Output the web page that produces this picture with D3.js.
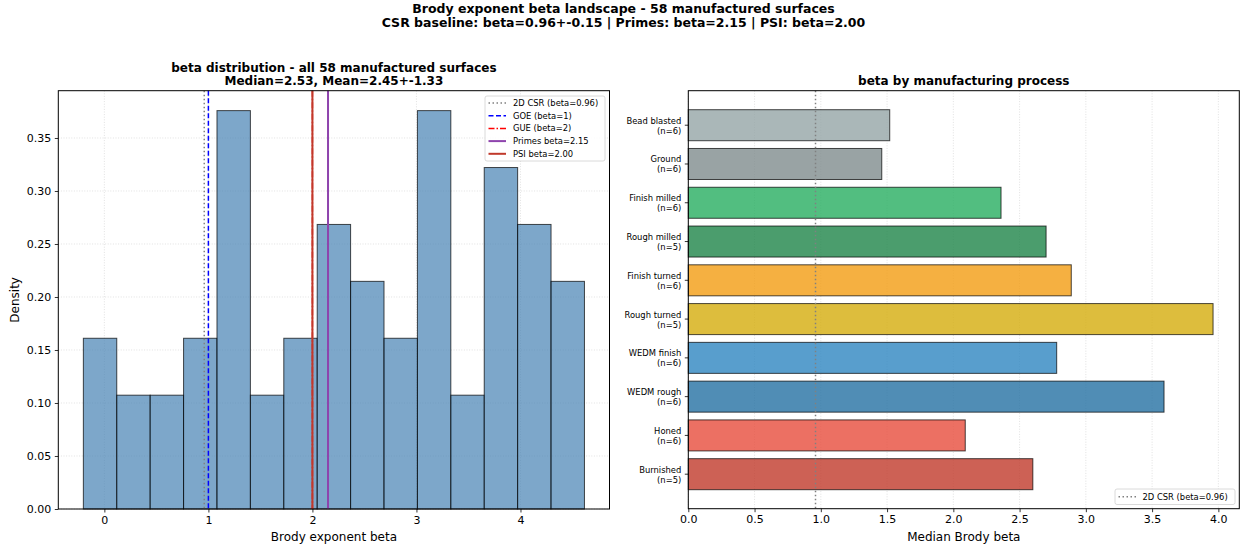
<!DOCTYPE html>
<html>
<head>
<meta charset="utf-8">
<script src="https://cdn.jsdelivr.net/npm/d3@7"></script>
<style>
  html, body { margin: 0; padding: 0; background: #fff; }
  svg { display: block; font-family: "DejaVu Sans", sans-serif; }
</style>
</head>
<body>
<svg id="chart" width="1247" height="549"></svg>
<script>
// ---- data ----
const histCounts = [3, 2, 2, 3, 7, 2, 3, 5, 4, 3, 7, 2, 6, 5, 4];
const histRange = [-0.202, 4.615];
const nSurfaces = 58;

const refLabels = ["2D CSR (beta=0.96)", "GOE (beta=1)", "GUE (beta=2)", "Primes beta=2.15", "PSI beta=2.00"];
const refValues = [0.96, 1.0, 2.0, 2.15, 2.00];

const processes = ["Bead blasted", "Ground", "Finish milled", "Rough milled", "Finish turned",
                   "Rough turned", "WEDM finish", "WEDM rough", "Honed", "Burnished"];
const processN = [6, 6, 6, 5, 6, 5, 6, 6, 6, 5];
const processMedian = [1.52, 1.46, 2.36, 2.70, 2.89, 3.96, 2.78, 3.59, 2.09, 2.60];

const histTicksX = [0, 1, 2, 3, 4];
const histTicksY = [0, 0.05, 0.10, 0.15, 0.20, 0.25, 0.30, 0.35];
const barTicksX = [0, 0.5, 1.0, 1.5, 2.0, 2.5, 3.0, 3.5, 4.0];
const csrBeta = 0.96;

// ---- styling ----
const processColors = ["#95a5a6", "#7f8c8d", "#27ae60", "#1e8449", "#f39c12",
                       "#d4ac0d", "#2e86c1", "#2471a3", "#e74c3c", "#c0392b"];
const refStyles = [
  { color: "#808080", dash: "1.5,2.5", width: 1.5 },
  { color: "#0000ff", dash: "5,2.5", width: 1.5 },
  { color: "#ff0000", dash: "6,2,1.5,2", width: 1.5 },
  { color: "#8e44ad", dash: null, width: 2 },
  { color: "#c0392b", dash: null, width: 2 }
];

const svg = d3.select("#chart");
const FONT = "DejaVu Sans, sans-serif";

// ---- figure titles ----
svg.append("text").attr("x", 623.5).attr("y", 13).attr("text-anchor", "middle")
  .attr("font-size", 12.5).attr("font-weight", "bold")
  .text("Brody exponent beta landscape - 58 manufactured surfaces");
svg.append("text").attr("x", 623.5).attr("y", 27).attr("text-anchor", "middle")
  .attr("font-size", 12.5).attr("font-weight", "bold")
  .text("CSR baseline: beta=0.96+-0.15 | Primes: beta=2.15 | PSI: beta=2.00");

// ===== left panel: histogram =====
const L = { x0: 58.3, x1: 609.5, y0: 90.7, y1: 509 };
const binW = (histRange[1] - histRange[0]) / histCounts.length;
const bins = histCounts.map((c, i) => ({
  x0: histRange[0] + i * binW,
  x1: histRange[0] + (i + 1) * binW,
  density: c / (nSurfaces * binW)
}));
const span = histRange[1] - histRange[0];
const xH = d3.scaleLinear().domain([histRange[0] - 0.05 * span, histRange[1] + 0.05 * span]).range([L.x0, L.x1]);
const maxD = d3.max(bins, d => d.density);
const yH = d3.scaleLinear().domain([0, maxD * 1.05]).range([L.y1, L.y0]);

const gL = svg.append("g");
// grid
gL.append("g").selectAll("line").data(histTicksX).join("line")
  .attr("x1", d => xH(d)).attr("x2", d => xH(d)).attr("y1", L.y0).attr("y2", L.y1)
  .attr("stroke", "#d9d9d9").attr("stroke-width", 0.8).attr("stroke-dasharray", "1,1.6");
gL.append("g").selectAll("line").data(histTicksY).join("line")
  .attr("x1", L.x0).attr("x2", L.x1).attr("y1", d => yH(d)).attr("y2", d => yH(d))
  .attr("stroke", "#d9d9d9").attr("stroke-width", 0.8).attr("stroke-dasharray", "1,1.6");
// bars
gL.append("g").selectAll("rect").data(bins).join("rect")
  .attr("x", d => xH(d.x0)).attr("width", d => xH(d.x1) - xH(d.x0))
  .attr("y", d => yH(d.density)).attr("height", d => yH(0) - yH(d.density))
  .attr("fill", "steelblue").attr("fill-opacity", 0.7)
  .attr("stroke", "#000").attr("stroke-opacity", 0.7).attr("stroke-width", 1);
// reference lines
gL.append("g").selectAll("line").data(refValues).join("line")
  .attr("x1", d => xH(d)).attr("x2", d => xH(d)).attr("y1", L.y0).attr("y2", L.y1)
  .attr("stroke", (d, i) => refStyles[i].color)
  .attr("stroke-width", (d, i) => refStyles[i].width)
  .attr("stroke-dasharray", (d, i) => refStyles[i].dash);
// axes
const axLB = gL.append("g").attr("transform", `translate(0,${L.y1})`)
  .call(d3.axisBottom(xH).tickValues(histTicksX).tickFormat(d3.format("d")).tickSize(3.5).tickPadding(3.5));
const axLL = gL.append("g").attr("transform", `translate(${L.x0},0)`)
  .call(d3.axisLeft(yH).tickValues(histTicksY).tickFormat(d3.format(".2f")).tickSize(3.5).tickPadding(3.5));
[axLB, axLL].forEach(a => {
  a.select(".domain").remove();
  a.selectAll("text").attr("font-size", 11).attr("font-family", FONT).attr("fill", "#000");
  a.selectAll("line").attr("stroke", "#000").attr("stroke-width", 0.8);
});
gL.append("rect").attr("x", L.x0).attr("y", L.y0).attr("width", L.x1 - L.x0).attr("height", L.y1 - L.y0)
  .attr("fill", "none").attr("stroke", "#000").attr("stroke-width", 1);
gL.append("text").attr("x", (L.x0 + L.x1) / 2).attr("y", 541).attr("text-anchor", "middle")
  .attr("font-size", 12).text("Brody exponent beta");
gL.append("text").attr("transform", `translate(19,${(L.y0 + L.y1) / 2}) rotate(-90)`)
  .attr("text-anchor", "middle").attr("font-size", 12).text("Density");
gL.append("text").attr("x", (L.x0 + L.x1) / 2).attr("y", 71.5).attr("text-anchor", "middle")
  .attr("font-size", 12).attr("font-weight", "bold").text("beta distribution - all 58 manufactured surfaces");
gL.append("text").attr("x", (L.x0 + L.x1) / 2).attr("y", 85).attr("text-anchor", "middle")
  .attr("font-size", 12).attr("font-weight", "bold").text("Median=2.53, Mean=2.45+-1.33");

// legend (left)
const lg = gL.append("g");
lg.append("rect").attr("x", 485).attr("y", 96).attr("width", 120).attr("height", 65).attr("rx", 2)
  .attr("fill", "#fff").attr("fill-opacity", 0.85).attr("stroke", "#d0d0d0").attr("stroke-width", 0.8);
refLabels.forEach((lab, i) => {
  const cy = 103 + i * 12.7;
  lg.append("line").attr("x1", 488.5).attr("x2", 506).attr("y1", cy).attr("y2", cy)
    .attr("stroke", refStyles[i].color).attr("stroke-width", refStyles[i].width)
    .attr("stroke-dasharray", refStyles[i].dash);
  lg.append("text").attr("x", 513).attr("y", cy + 3).attr("font-size", 8.4).text(lab);
});

// ===== right panel: horizontal bars =====
const R = { x0: 688.3, x1: 1239.3, y0: 90.7, y1: 508.7 };
const maxM = d3.max(processMedian);
const xB = d3.scaleLinear().domain([0, maxM * 1.05]).range([R.x0, R.x1]);
const nP = processes.length;
const pad = 0.05 * ((nP - 1 + 0.4) - (-0.4));
const yB = d3.scaleLinear().domain([-0.4 - pad, nP - 1 + 0.4 + pad]).range([R.y0, R.y1]);

const gR = svg.append("g");
gR.append("g").selectAll("line").data(barTicksX).join("line")
  .attr("x1", d => xB(d)).attr("x2", d => xB(d)).attr("y1", R.y0).attr("y2", R.y1)
  .attr("stroke", "#d9d9d9").attr("stroke-width", 0.8).attr("stroke-dasharray", "1,1.6");
gR.append("g").selectAll("rect").data(processMedian).join("rect")
  .attr("x", xB(0)).attr("width", d => xB(d) - xB(0))
  .attr("y", (d, i) => yB(i - 0.4)).attr("height", (d, i) => yB(i + 0.4) - yB(i - 0.4))
  .attr("fill", (d, i) => processColors[i]).attr("fill-opacity", 0.8)
  .attr("stroke", "#000").attr("stroke-opacity", 0.7).attr("stroke-width", 1);
gR.append("line").attr("x1", xB(csrBeta)).attr("x2", xB(csrBeta)).attr("y1", R.y0).attr("y2", R.y1)
  .attr("stroke", "#808080").attr("stroke-width", 1.5).attr("stroke-dasharray", "1.5,2.5");

const axRB = gR.append("g").attr("transform", `translate(0,${R.y1})`)
  .call(d3.axisBottom(xB).tickValues(barTicksX).tickFormat(d3.format(".1f")).tickSize(3.5).tickPadding(3.5));
axRB.select(".domain").remove();
axRB.selectAll("text").attr("font-size", 11).attr("font-family", FONT).attr("fill", "#000");
axRB.selectAll("line").attr("stroke", "#000").attr("stroke-width", 0.8);
// category ticks and two-line labels
const cat = gR.append("g").selectAll("g").data(processes).join("g")
  .attr("transform", (d, i) => `translate(${R.x0},${yB(i)})`);
cat.append("line").attr("x1", -3.5).attr("x2", 0).attr("stroke", "#000").attr("stroke-width", 0.8);
cat.append("text").attr("x", -7).attr("y", -1.5).attr("text-anchor", "end").attr("font-size", 8.4).text(d => d);
cat.append("text").attr("x", -7).attr("y", 8.5).attr("text-anchor", "end").attr("font-size", 8.4)
  .text((d, i) => `(n=${processN[i]})`);

gR.append("rect").attr("x", R.x0).attr("y", R.y0).attr("width", R.x1 - R.x0).attr("height", R.y1 - R.y0)
  .attr("fill", "none").attr("stroke", "#000").attr("stroke-width", 1);
gR.append("text").attr("x", (R.x0 + R.x1) / 2).attr("y", 541).attr("text-anchor", "middle")
  .attr("font-size", 12).text("Median Brody beta");
gR.append("text").attr("x", (R.x0 + R.x1) / 2).attr("y", 85).attr("text-anchor", "middle")
  .attr("font-size", 12).attr("font-weight", "bold").text("beta by manufacturing process");

// legend (right)
const lr = gR.append("g");
lr.append("rect").attr("x", 1115).attr("y", 489).attr("width", 120).attr("height", 15.5).attr("rx", 2)
  .attr("fill", "#fff").attr("fill-opacity", 0.85).attr("stroke", "#d0d0d0").attr("stroke-width", 0.8);
lr.append("line").attr("x1", 1118.5).attr("x2", 1136.5).attr("y1", 496.7).attr("y2", 496.7)
  .attr("stroke", "#808080").attr("stroke-width", 1.5).attr("stroke-dasharray", "1.5,2.5");
lr.append("text").attr("x", 1142.5).attr("y", 499.7).attr("font-size", 8.4).text(refLabels[0]);
</script>
</body>
</html>
